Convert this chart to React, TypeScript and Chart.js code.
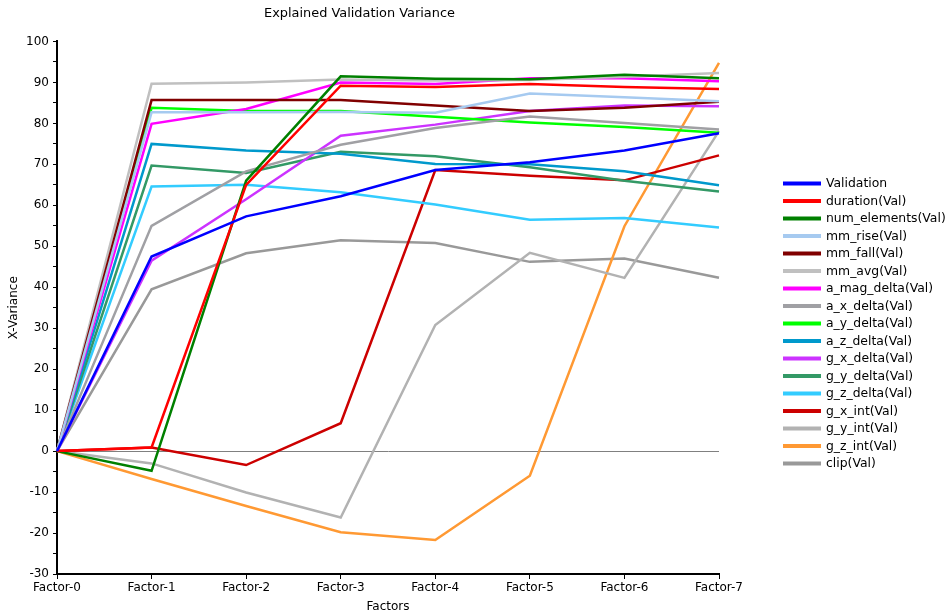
import React, { useEffect, useRef } from "react";
import { Chart, registerables } from "chart.js";

Chart.register(...registerables);

const categories = ["Factor-0", "Factor-1", "Factor-2", "Factor-3", "Factor-4", "Factor-5", "Factor-6", "Factor-7"];

const validation = [0, 47.5, 57.3, 62.2, 68.6, 70.5, 73.4, 77.6];
const duration = [0, 0.9, 65.0, 89.2, 88.9, 89.6, 88.9, 88.4];
const numElements = [0, -4.8, 66.0, 91.5, 90.9, 90.8, 91.9, 91.0];
const mmRise = [0, 82.7, 82.7, 82.8, 82.6, 87.3, 86.4, 85.4];
const mmFall = [0, 85.7, 85.7, 85.7, 84.4, 83.0, 83.8, 85.3];
const mmAvg = [0, 89.7, 90.0, 90.7, 90.5, 90.6, 91.4, 92.3];
const aMagDelta = [0, 79.9, 83.5, 90.0, 89.6, 91.0, 91.0, 90.3];
const aXDelta = [0, 55.0, 68.3, 74.8, 78.9, 81.7, 80.1, 78.5];
const aYDelta = [0, 83.8, 83.0, 83.0, 81.6, 80.2, 79.1, 77.7];
const aZDelta = [0, 75.0, 73.4, 72.6, 70.1, 70.0, 68.3, 64.9];
const gXDelta = [0, 46.5, 61.5, 77.0, 79.7, 83.0, 84.4, 84.2];
const gYDelta = [0, 69.7, 67.9, 73.1, 72.0, 69.3, 66.0, 63.4];
const gZDelta = [0, 64.6, 65.0, 63.2, 60.2, 56.5, 56.9, 54.6];
const gXInt = [0, 0.9, -3.4, 6.8, 68.6, 67.2, 66.1, 72.2];
const gYInt = [0, -3.0, -10.1, -16.2, 30.8, 48.4, 42.3, 78.1];
const gZInt = [0, -6.8, -13.4, -19.8, -21.7, -6.0, 54.9, 94.8];
const clip = [0, 39.5, 48.3, 51.5, 50.8, 46.2, 47.0, 42.3];

const seriesNames = [
  "Validation", "duration(Val)", "num_elements(Val)", "mm_rise(Val)", "mm_fall(Val)",
  "mm_avg(Val)", "a_mag_delta(Val)", "a_x_delta(Val)", "a_y_delta(Val)", "a_z_delta(Val)",
  "g_x_delta(Val)", "g_y_delta(Val)", "g_z_delta(Val)", "g_x_int(Val)", "g_y_int(Val)",
  "g_z_int(Val)", "clip(Val)",
];
const seriesValues = [
  validation, duration, numElements, mmRise, mmFall, mmAvg, aMagDelta, aXDelta, aYDelta,
  aZDelta, gXDelta, gYDelta, gZDelta, gXInt, gYInt, gZInt, clip,
];
const seriesColors = [
  "#0000ff", "#ff0000", "#008000", "#a6caf0", "#800000", "#c0c0c0", "#ff00ff", "#a0a0a4",
  "#00ff00", "#0099cc", "#cc33ff", "#339966", "#33ccff", "#cc0000", "#b2b2b2", "#ff9933",
  "#999999",
];

const FONT = "'DejaVu Sans', sans-serif";

// Draws the series key to the right of the plot.
const sideLegend = {
  id: "sideLegend",
  afterDraw(chart: any) {
    const ctx = chart.ctx;
    ctx.save();
    ctx.font = `12.4px ${FONT}`;
    ctx.textBaseline = "middle";
    ctx.textAlign = "left";
    chart.data.datasets.forEach((ds: any, i: number) => {
      const y = 183.5 + i * 17.5;
      ctx.fillStyle = ds.borderColor;
      ctx.fillRect(783, y - 2, 38, 4);
      ctx.fillStyle = "#000";
      ctx.fillText(ds.label, 826, y + 0.5);
    });
    ctx.restore();
  },
};

export default function App() {
  const canvasRef = useRef<HTMLCanvasElement | null>(null);

  useEffect(() => {
    document.body.style.margin = "0";
    const canvas = canvasRef.current;
    if (!canvas) return;
    const chart = new Chart(canvas, {
      type: "line",
      data: {
        labels: categories,
        datasets: seriesNames.map((name, i) => ({
          label: name,
          data: seriesValues[i],
          borderColor: seriesColors[i],
          backgroundColor: seriesColors[i],
          borderWidth: 2.5,
          pointRadius: 0,
          tension: 0,
          fill: false,
        })),
      },
      options: {
        animation: false,
        responsive: false,
        devicePixelRatio: 1,
        layout: { padding: { left: 0, right: 231, top: 0, bottom: 0 } },
        plugins: {
          legend: { display: false },
          tooltip: { enabled: false },
          title: {
            display: true,
            text: "Explained Validation Variance",
            color: "#000",
            font: { family: FONT, size: 12.9, weight: "normal" },
            padding: { top: 6, bottom: 20 },
          },
        },
        scales: {
          x: {
            type: "category",
            offset: false,
            border: { color: "#000", width: 2 },
            grid: { drawOnChartArea: false, drawTicks: true, tickLength: 5, tickColor: "#000" },
            ticks: { color: "#000", font: { family: FONT, size: 12 }, maxRotation: 0, padding: 2 },
            title: {
              display: true,
              text: "Factors",
              color: "#000",
              font: { family: FONT, size: 12 },
              padding: { top: 0, bottom: 0 },
            },
            afterFit: (scale: any) => {
              scale.height = 40;
            },
          },
          y: {
            min: -30,
            max: 100,
            border: { color: "#000", width: 2 },
            grid: {
              drawOnChartArea: true,
              drawTicks: true,
              tickLength: 4,
              tickColor: "#000",
              color: (c: any) => (c.tick && c.tick.value === 0 ? "#808080" : "rgba(0,0,0,0)"),
              lineWidth: 1,
            },
            ticks: {
              stepSize: 5,
              color: "#000",
              font: { family: FONT, size: 12 },
              padding: 4,
              callback: (v: any) => (Number(v) % 10 === 0 ? String(v) : ""),
            },
            title: {
              display: true,
              text: "X-Variance",
              color: "#000",
              font: { family: FONT, size: 12 },
              padding: { top: 7, bottom: 0 },
            },
            afterFit: (scale: any) => {
              scale.width = 57;
            },
          },
        },
      },
      plugins: [sideLegend],
    });
    return () => chart.destroy();
  }, []);

  return (
    <div style={{ position: "fixed", left: 0, top: 0, width: 950, height: 614, background: "#fff" }}>
      <canvas ref={canvasRef} width={950} height={614} style={{ width: 950, height: 614 }} />
    </div>
  );
}
